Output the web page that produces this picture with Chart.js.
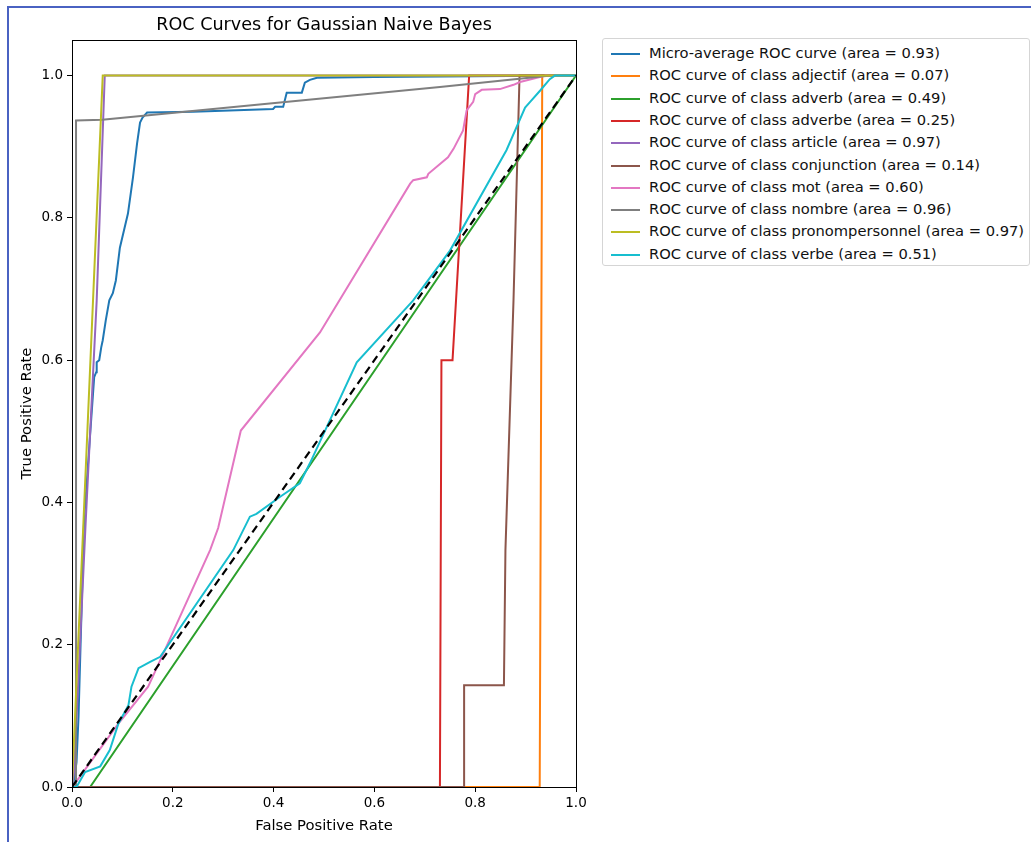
<!DOCTYPE html>
<html>
<head>
<meta charset="utf-8">
<script src="https://cdn.jsdelivr.net/npm/chart.js@4.4.1/dist/chart.umd.min.js"></script>
<style>
    body { margin: 0; background: #fff; font-family: "DejaVu Sans", sans-serif; overflow: hidden; }
    #wrap { position: relative; width: 1031px; height: 842px; overflow: hidden; }
    #frame { position: absolute; left: 7px; top: 6px; width: 2000px; height: 2000px; border-left: 2px solid #4a62c2; border-top: 2px solid #4a62c2; }
    #box { position: absolute; left: 0; top: 0; width: 1031px; height: 842px; }
    #titre { position: absolute; left: 72px; width: 504px; top: 14px; text-align: center; font-size: 17.6px; color: #000; }
    #legende { position: absolute; left: 602px; top: 38px; width: 426px; height: 226px; border: 1px solid #d5d5d5; border-radius: 3px; background: #fff; }
    .fila { position: absolute; left: 0; height: 20px; font-size: 14.7px; color: #111; white-space: nowrap; }
    .fila span.linea { position: absolute; left: 8px; top: 10px; width: 29px; height: 2px; }
    .fila span.txt { position: absolute; left: 46px; top: 1px; }
</style>
</head>
<body>
<div id="wrap">
    <div id="frame"></div>
    <div id="box"><canvas id="grafico"></canvas></div>
    <div id="titre">ROC Curves for Gaussian Naive Bayes</div>
    <div id="legende"></div>
</div>
<script>
// noms des séries et couleurs (tab10)
const nombres = ['Micro-average ROC curve', 'adjectif', 'adverb', 'adverbe', 'article', 'conjunction', 'mot', 'nombre', 'pronompersonnel', 'verbe'];
const areas = ['0.93', '0.07', '0.49', '0.25', '0.97', '0.14', '0.60', '0.96', '0.97', '0.51'];
const colores = ['#1f77b4', '#ff7f0e', '#2ca02c', '#d62728', '#9467bd', '#8c564b', '#e377c2', '#7f7f7f', '#bcbd22', '#17becf'];

// valeurs (fpr, tpr)
const microFpr = [0, 0.004, 0.009, 0.013, 0.024, 0.044, 0.048, 0.049, 0.054, 0.058, 0.061, 0.067, 0.074, 0.081, 0.087, 0.095, 0.111, 0.121, 0.129, 0.135, 0.140, 0.149, 0.24, 0.399, 0.403, 0.419, 0.426, 0.456, 0.462, 0.472, 0.486, 0.6, 1];
const microTpr = [0, 0.01, 0.035, 0.10, 0.375, 0.576, 0.583, 0.597, 0.600, 0.618, 0.628, 0.656, 0.684, 0.694, 0.712, 0.758, 0.806, 0.857, 0.904, 0.934, 0.941, 0.948, 0.949, 0.953, 0.956, 0.956, 0.976, 0.976, 0.990, 0.994, 0.997, 0.998, 1];

const adjectifFpr = [0, 0.928, 0.933, 1];
const adjectifTpr = [0, 0, 1, 1];

const adverbFpr = [0, 0.036, 1];
const adverbTpr = [0, 0, 1];

const adverbeFpr = [0, 0.730, 0.733, 0.755, 0.788, 1];
const adverbeTpr = [0, 0, 0.600, 0.600, 1, 1];

const articleFpr = [0, 0.004, 0.027, 0.049, 0.065, 1];
const articleTpr = [0, 0.02, 0.37, 0.684, 1, 1];

const conjunctionFpr = [0, 0.778, 0.778, 0.857, 0.860, 0.876, 0.888, 1];
const conjunctionTpr = [0, 0, 0.143, 0.143, 0.333, 0.684, 1, 1];

const motFpr = [0, 0.006, 0.092, 0.151, 0.175, 0.274, 0.29, 0.335, 0.492, 0.671, 0.677, 0.704, 0.707, 0.746, 0.757, 0.776, 0.783, 0.796, 0.800, 0.813, 0.849, 0.876, 0.889, 0.94, 1];
const motTpr = [0, 0.005, 0.089, 0.141, 0.178, 0.333, 0.364, 0.501, 0.639, 0.848, 0.853, 0.857, 0.862, 0.885, 0.897, 0.923, 0.951, 0.963, 0.974, 0.980, 0.981, 0.987, 0.991, 1, 1];

const nombreFpr = [0, 0.008, 0.008, 0.06, 0.73, 0.95, 1];
const nombreTpr = [0, 0, 0.937, 0.938, 0.984, 1, 1];

const pronomFpr = [0, 0.061, 1];
const pronomTpr = [0, 1, 1];

const verbeFpr = [0, 0.009, 0.026, 0.056, 0.075, 0.092, 0.112, 0.118, 0.132, 0.155, 0.175, 0.32, 0.353, 0.366, 0.413, 0.452, 0.472, 0.565, 0.677, 0.75, 0.862, 0.899, 0.909, 0.929, 0.948, 0.958, 1];
const verbeTpr = [0, 0, 0.021, 0.029, 0.052, 0.089, 0.115, 0.141, 0.167, 0.176, 0.183, 0.333, 0.380, 0.384, 0.408, 0.427, 0.455, 0.597, 0.684, 0.754, 0.895, 0.955, 0.963, 0.979, 0.995, 1, 1];

const diagFpr = [0, 1];
const diagTpr = [0, 1];

const series = [
    [microFpr, microTpr], [adjectifFpr, adjectifTpr], [adverbFpr, adverbTpr], [adverbeFpr, adverbeTpr],
    [articleFpr, articleTpr], [conjunctionFpr, conjunctionTpr], [motFpr, motTpr], [nombreFpr, nombreTpr],
    [pronomFpr, pronomTpr], [verbeFpr, verbeTpr]
];

const xTicks = [0, 0.2, 0.4, 0.6, 0.8, 1.0];
const yTicks = [0, 0.2, 0.4, 0.6, 0.8, 1.0];

function etiqueta(i) {
    if (i === 0) return nombres[0] + ' (area = ' + areas[0] + ')';
    return 'ROC curve of class ' + nombres[i] + ' (area = ' + areas[i] + ')';
}

function puntos(fpr, tpr) {
    return fpr.map((x, k) => ({ x: x, y: tpr[k] }));
}

const datasets = series.map((s, i) => ({
    label: etiqueta(i),
    data: puntos(s[0], s[1]),
    borderColor: colores[i],
    borderWidth: 2,
    pointRadius: 0,
    showLine: true,
    tension: 0,
    order: 20 - i,
}));
datasets.push({
    label: 'diag',
    data: puntos(diagFpr, diagTpr),
    borderColor: '#000',
    borderWidth: 2.2,
    borderDash: [8, 5],
    pointRadius: 0,
    showLine: true,
    order: 0,
});

// légende html
const leg = document.getElementById('legende');
nombres.forEach((n, i) => {
    const fila = document.createElement('div');
    fila.className = 'fila';
    fila.style.top = (4 + i * 22.3) + 'px';
    fila.innerHTML = '<span class="linea" style="background:' + colores[i] + '"></span><span class="txt">' + etiqueta(i) + '</span>';
    leg.appendChild(fila);
});

// cadre complet autour de la zone de tracé
const cadre = {
    id: 'cadre',
    afterDatasetsDraw(chart) {
        const { ctx, chartArea: a } = chart;
        ctx.save();
        ctx.strokeStyle = '#000';
        ctx.lineWidth = 1;
        ctx.strokeRect(Math.round(a.left) + 0.5, Math.round(a.top) + 0.5, Math.round(a.right - a.left), Math.round(a.bottom - a.top));
        ctx.restore();
    }
};

const fuente = { family: 'DejaVu Sans', size: 13.5 };
const fuenteTitulo = { family: 'DejaVu Sans', size: 14.8 };

new Chart(document.getElementById('grafico').getContext('2d'), {
    type: 'scatter',
    data: { datasets: datasets },
    options: {
        responsive: true,
        maintainAspectRatio: false,
        animation: false,
        devicePixelRatio: 1,
        layout: { padding: { left: 0, top: 40, right: 455, bottom: 0 } },
        plugins: { legend: { display: false }, tooltip: { enabled: false }, title: { display: false } },
        scales: {
            x: {
                type: 'linear', min: 0, max: 1,
                afterFit: s => { s.height = 55; },
                afterBuildTicks: s => { s.ticks = xTicks.map(v => ({ value: v })); },
                grid: { drawOnChartArea: false, drawTicks: true, tickLength: 5, color: '#000' },
                border: { color: '#000' },
                ticks: { color: '#000', font: fuente, padding: 3, maxRotation: 0, callback: v => v.toFixed(1) },
                title: { display: true, text: 'False Positive Rate', color: '#000', font: fuenteTitulo, padding: { top: 4, bottom: 7 } },
            },
            y: {
                type: 'linear', min: 0, max: 1.05,
                afterFit: s => { s.width = 72; },
                afterBuildTicks: s => { s.ticks = yTicks.map(v => ({ value: v })); },
                grid: { drawOnChartArea: false, drawTicks: true, tickLength: 5, color: '#000' },
                border: { color: '#000' },
                ticks: { color: '#000', font: fuente, padding: 4, callback: v => v.toFixed(1) },
                title: { display: true, text: 'True Positive Rate', color: '#000', font: fuenteTitulo, padding: { top: 18, bottom: 18 } },
            },
        },
    },
    plugins: [cadre],
});
</script>
</body>
</html>
